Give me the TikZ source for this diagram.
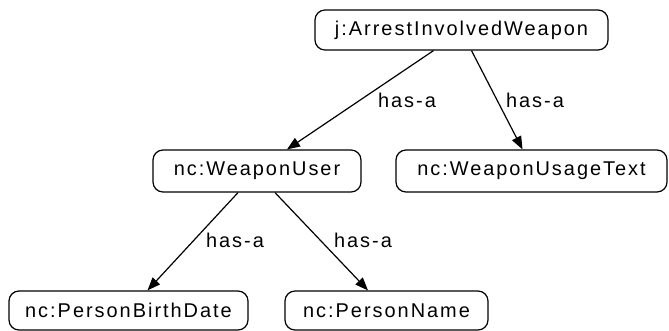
\documentclass[tikz,border=0pt]{standalone}
\usepackage{fontspec}
\setmainfont{Liberation Sans}
\newfontfamily\gvfont[LetterSpace=10]{Liberation Sans}
\usetikzlibrary{arrows.meta}
\begin{document}
\begin{tikzpicture}[x=1bp,y=-1bp,
  box/.style={draw,rounded corners=10bp,line width=1.2bp,inner sep=0pt,font=\gvfont\fontsize{20}{22}\selectfont},
  edge/.style={line width=1.2bp,-{Triangle[length=13bp,width=10bp]}},
  lbl/.style={font=\gvfont\fontsize{20}{22}\selectfont,inner sep=0pt}]
\useasboundingbox (0,0) rectangle (669,330);
\node[box,minimum width=293bp,minimum height=40bp] (top) at (461.5,30) {j:ArrestInvolvedWeapon};
\node[box,minimum width=208bp,minimum height=42bp] (wu) at (257,171) {nc:WeaponUser};
\node[box,minimum width=271bp,minimum height=42bp] (wut) at (531.5,171) {nc:WeaponUsageText};
\node[box,minimum width=239bp,minimum height=39bp] (pbd) at (128.5,310.5) {nc:PersonBirthDate};
\node[box,minimum width=203bp,minimum height=39bp] (pn) at (386.5,310.5) {nc:PersonName};
\draw[edge] ([xshift=-28bp]top.south) -- ([xshift=30bp]wu.north);
\draw[edge] ([xshift=10bp]top.south) -- ([xshift=-9bp]wut.north);
\draw[edge] ([xshift=-19bp]wu.south) -- ([xshift=19bp]pbd.north);
\draw[edge] ([xshift=18bp]wu.south) -- ([xshift=-18.5bp]pn.north);
\node[lbl] (l1) at (407,100) {has-a};
\node[lbl] (l2) at (535,100) {has-a};
\node[lbl] (l3) at (235,240) {has-a};
\node[lbl] (l4) at (363,240) {has-a};
\end{tikzpicture}
\end{document}
